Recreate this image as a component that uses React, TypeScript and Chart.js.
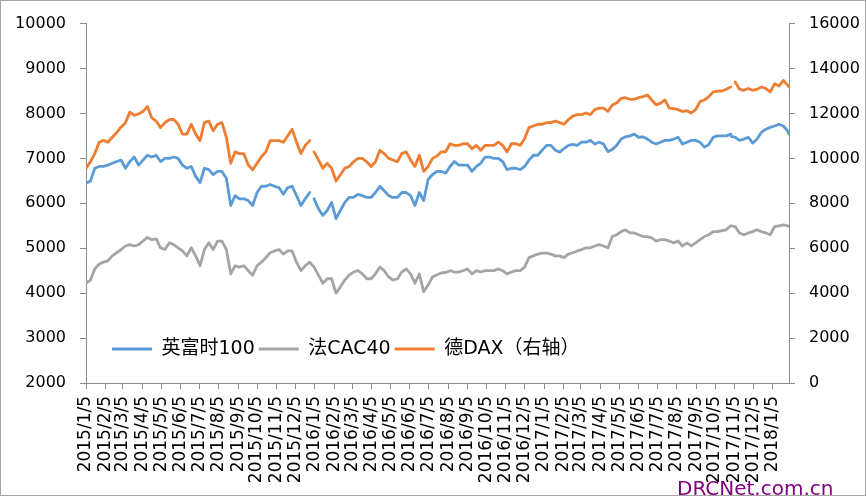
import React, { useEffect, useRef } from "react";
import { Chart, registerables } from "chart.js";

Chart.register(...registerables);

// Sample dates (weekly, plus a few holiday dates where a market was closed)
const DATES: string[] = [
  "2015/1/5","2015/1/12","2015/1/19","2015/1/26",
  "2015/2/2","2015/2/9","2015/2/16","2015/2/23",
  "2015/3/2","2015/3/9","2015/3/16","2015/3/23","2015/3/30",
  "2015/4/6","2015/4/13","2015/4/20","2015/4/27",
  "2015/5/4","2015/5/11","2015/5/18","2015/5/25",
  "2015/6/1","2015/6/8","2015/6/15","2015/6/22","2015/6/29",
  "2015/7/6","2015/7/13","2015/7/20","2015/7/27",
  "2015/8/3","2015/8/10","2015/8/17","2015/8/24","2015/8/31",
  "2015/9/7","2015/9/14","2015/9/21","2015/9/28",
  "2015/10/5","2015/10/12","2015/10/19","2015/10/26",
  "2015/11/2","2015/11/9","2015/11/16","2015/11/23","2015/11/30",
  "2015/12/7","2015/12/14","2015/12/21","2015/12/28","2015/12/31",
  "2016/1/4","2016/1/11","2016/1/18","2016/1/25",
  "2016/2/1","2016/2/8","2016/2/15","2016/2/22","2016/2/29",
  "2016/3/7","2016/3/14","2016/3/21","2016/3/28",
  "2016/4/4","2016/4/11","2016/4/18","2016/4/25",
  "2016/5/2","2016/5/9","2016/5/16","2016/5/23","2016/5/30",
  "2016/6/6","2016/6/13","2016/6/20","2016/6/27",
  "2016/7/4","2016/7/11","2016/7/18","2016/7/25",
  "2016/8/1","2016/8/8","2016/8/15","2016/8/22","2016/8/29",
  "2016/9/5","2016/9/12","2016/9/19","2016/9/26",
  "2016/10/3","2016/10/10","2016/10/17","2016/10/24","2016/10/31",
  "2016/11/7","2016/11/14","2016/11/21","2016/11/28",
  "2016/12/5","2016/12/12","2016/12/19","2016/12/26",
  "2017/1/2","2017/1/9","2017/1/16","2017/1/23","2017/1/30",
  "2017/2/6","2017/2/13","2017/2/20","2017/2/27",
  "2017/3/6","2017/3/13","2017/3/20","2017/3/27",
  "2017/4/3","2017/4/10","2017/4/17","2017/4/24",
  "2017/5/1","2017/5/8","2017/5/15","2017/5/22","2017/5/29",
  "2017/6/5","2017/6/12","2017/6/19","2017/6/26",
  "2017/7/3","2017/7/10","2017/7/17","2017/7/24","2017/7/31",
  "2017/8/7","2017/8/14","2017/8/21","2017/8/28",
  "2017/9/4","2017/9/11","2017/9/18","2017/9/25",
  "2017/10/2","2017/10/9","2017/10/16","2017/10/23","2017/10/30","2017/10/31",
  "2017/11/6","2017/11/13","2017/11/20","2017/11/27",
  "2017/12/4","2017/12/11","2017/12/18","2017/12/25",
  "2018/1/1","2018/1/8","2018/1/15","2018/1/22","2018/1/29","2018/1/31",
];

// 英富时100 (left axis)
const FTSE: (number | null)[] = [
  6450,6490,6780,6820,
  6820,6850,6890,6930,
  6960,6780,6930,7030,6850,
  6960,7070,7030,7070,
  6930,7000,7000,7030,
  7000,6850,6780,6820,6600,
  6460,6780,6750,6640,
  6710,6710,6560,5950,6170,
  6100,6100,6060,5950,
  6240,6380,6380,6420,
  6380,6350,6200,6350,6380,
  6170,5950,6100,6240,null,
  6100,5880,5730,5840,
  6020,5660,5840,6020,6130,
  6130,6200,6170,6130,
  6130,6240,6380,6280,
  6170,6130,6130,6240,6240,
  6170,5950,6240,6060,
  6530,6640,6710,6710,
  6670,6820,6930,6850,6850,
  6850,6710,6820,6890,
  7030,7030,7000,7000,6930,
  6750,6780,6780,6750,
  6820,6960,7070,7070,
  7180,7290,7290,7180,7140,
  7220,7290,7310,7290,
  7360,7360,7400,7320,
  7360,7320,7150,7200,
  7290,7430,7480,7500,7540,
  7470,7480,7430,7360,
  7320,7360,7400,7400,7430,
  7470,7320,7360,7400,
  7400,7360,7250,7310,
  7470,7500,7500,7500,7540,7490,
  7470,7400,7430,7470,
  7340,7430,7580,7650,
  7690,7720,7760,7720,7610,7540,
];

// 法CAC40 (left axis)
const CAC: (number | null)[] = [
  4220,4290,4540,4650,
  4690,4720,4830,4900,
  4970,5050,5080,5050,5080,
  5160,5240,5190,5210,
  5010,4970,5120,5080,
  5010,4940,4830,5010,4830,
  4610,4970,5120,4970,
  5160,5160,4970,4430,4610,
  4580,4610,4500,4400,
  4610,4690,4790,4900,
  4940,4970,4870,4940,4940,
  4690,4500,4610,4690,4640,
  4580,4400,4220,4320,
  4320,4000,4140,4290,4400,
  4470,4500,4430,4320,
  4320,4430,4580,4500,
  4360,4290,4320,4470,4540,
  4430,4220,4430,4030,
  4180,4360,4410,4450,
  4460,4500,4470,4470,4500,
  4540,4430,4500,4470,
  4500,4500,4500,4540,4500,
  4430,4470,4500,4500,
  4580,4790,4830,4870,
  4890,4890,4870,4830,4830,
  4790,4870,4900,4940,
  4970,5010,5010,5050,
  5080,5050,5010,5260,
  5300,5370,5410,5340,5340,
  5300,5260,5260,5230,
  5160,5190,5190,5160,5120,
  5160,5050,5120,5050,
  5120,5190,5260,5300,
  5370,5370,5390,5410,5500,5500,
  5480,5340,5300,5340,
  5370,5410,5370,5340,
  5300,5480,5500,5520,5500,5480,
];

// 德DAX (right axis)
const DAX: (number | null)[] = [
  9560,9850,10210,10720,
  10800,10720,10940,11150,
  11400,11590,12060,11920,11980,
  12090,12310,11800,11660,
  11370,11590,11730,11730,
  11520,11080,11080,11520,11080,
  10790,11590,11660,11230,
  11520,11590,10940,9780,10290,
  10210,10210,9710,9490,
  9780,10070,10290,10790,
  10790,10790,10720,11010,11300,
  10720,10210,10580,10790,null,
  10290,9930,9560,9780,
  9560,8990,9270,9560,9640,
  9850,10000,10000,9850,
  9640,9850,10360,10210,
  10000,9930,9850,10210,10290,
  9930,9640,10140,9420,
  9640,10000,10100,10290,
  10290,10650,10580,10580,10650,
  10650,10430,10580,10360,
  10580,10580,10580,10720,10580,
  10290,10650,10650,10580,
  10870,11370,11440,11520,
  11520,11590,11590,11660,11590,
  11520,11730,11880,11950,
  11950,12020,11950,12170,
  12240,12240,12090,12380,
  12480,12670,12700,12630,12640,
  12700,12750,12820,12600,
  12380,12460,12600,12240,12210,
  12170,12090,12120,12020,
  12170,12530,12600,12750,
  12960,12990,13000,13080,13180,null,
  13400,13080,13030,13110,
  13030,13080,13180,13110,
  12960,13320,13220,13470,13250,13180,
];

const MONTH_TICKS: string[] = [
  "2015/1/5","2015/2/5","2015/3/5","2015/4/5","2015/5/5","2015/6/5",
  "2015/7/5","2015/8/5","2015/9/5","2015/10/5","2015/11/5","2015/12/5",
  "2016/1/5","2016/2/5","2016/3/5","2016/4/5","2016/5/5","2016/6/5",
  "2016/7/5","2016/8/5","2016/9/5","2016/10/5","2016/11/5","2016/12/5",
  "2017/1/5","2017/2/5","2017/3/5","2017/4/5","2017/5/5","2017/6/5",
  "2017/7/5","2017/8/5","2017/9/5","2017/10/5","2017/11/5","2017/12/5",
  "2018/1/5",
];

const SERIES_NAMES = ["英富时100", "法CAC40", "德DAX（右轴）"];
const SERIES_COLORS = ["#5B9BD5", "#A5A5A5", "#ED7D31"];

const AXIS_COLOR = "#8c8c8c";
const FONT_FAMILY = "'DejaVu Sans', 'Noto Sans CJK SC', sans-serif";

function dayIndex(s: string): number {
  const [y, m, d] = s.split("/").map(Number);
  return Math.round((Date.UTC(y, m - 1, d) - Date.UTC(2015, 0, 5)) / 86400000);
}

const legendInside = {
  id: "legendInside",
  beforeLayout(chart: any) {
    const lg = chart.legend;
    if (lg && !lg.__patched) {
      const orig = lg.fit.bind(lg);
      lg.fit = function () {
        orig();
        this.__h = this.height;
        this.width = 0;
        this.height = 0;
      };
      lg.__patched = true;
    }
  },
  afterLayout(chart: any) {
    const lg = chart.legend;
    if (!lg) return;
    const left = 108;
    const top = 335.5;
    lg.left = left;
    lg.top = top;
    lg.width = 700;
    lg.height = lg.__h || 40;
    lg.right = left + 700;
    lg.bottom = top + lg.height;
  },
};

export default function App() {
  const ref = useRef<HTMLCanvasElement>(null);

  useEffect(() => {
    if (!ref.current) return;
    const toPts = (vals: (number | null)[]) =>
      DATES.map((d, i) => ({ x: dayIndex(d), y: vals[i] }));

    const mk = (i: number, vals: (number | null)[], axis: string) => ({
      label: SERIES_NAMES[i],
      data: toPts(vals),
      yAxisID: axis,
      borderColor: SERIES_COLORS[i],
      backgroundColor: SERIES_COLORS[i],
      borderWidth: 2.8,
      pointRadius: 0,
      pointHoverRadius: 0,
      tension: 0,
      spanGaps: false,
      borderJoinStyle: "round",
      borderCapStyle: "round",
    });

    const plain = (v: any) => String(v);

    const chart = new Chart(ref.current, {
      type: "line",
      data: {
        datasets: [mk(0, FTSE, "y"), mk(1, CAC, "y"), mk(2, DAX, "y1")] as any,
      },
      options: {
        animation: false,
        responsive: false,
        events: [],
        layout: { padding: { left: 0, right: 0, top: 13, bottom: 0 } },
        plugins: {
          tooltip: { enabled: false },
          legend: {
            display: true,
            position: "top",
            align: "start",
            labels: {
              boxWidth: 40,
              boxHeight: 3,
              padding: 4,
              color: "#000",
              font: { size: 19, family: FONT_FAMILY },
              generateLabels: (c: any) =>
                c.data.datasets.map((ds: any, i: number) => ({
                  text: ds.label,
                  fillStyle: ds.borderColor,
                  strokeStyle: ds.borderColor,
                  lineWidth: 0,
                  hidden: false,
                  datasetIndex: i,
                })),
            },
          },
        },
        scales: {
          x: {
            type: "linear",
            min: dayIndex(DATES[0]),
            max: dayIndex(DATES[DATES.length - 1]),
            afterBuildTicks: (scale: any) => {
              scale.ticks = MONTH_TICKS.map((s) => ({ value: dayIndex(s) }));
            },
            afterFit: (scale: any) => {
              scale.height = 496 - 383;
            },
            ticks: {
              autoSkip: false,
              minRotation: 90,
              maxRotation: 90,
              padding: 7,
              color: "#000",
              font: { size: 17, family: FONT_FAMILY },
              callback: (_v: any, i: number) => MONTH_TICKS[i],
            },
            grid: {
              drawOnChartArea: false,
              drawTicks: true,
              tickLength: 6,
              color: AXIS_COLOR,
            },
            border: { display: true, color: AXIS_COLOR, width: 1 },
          },
          y: {
            type: "linear",
            position: "left",
            min: 2000,
            max: 10000,
            afterFit: (scale: any) => {
              scale.width = 86;
            },
            ticks: {
              stepSize: 1000,
              padding: 14,
              color: "#000",
              font: { size: 16, family: FONT_FAMILY },
              callback: plain,
            },
            grid: { drawOnChartArea: false, drawTicks: true, tickLength: 6, color: AXIS_COLOR },
            border: { display: true, color: AXIS_COLOR, width: 1 },
          },
          y1: {
            type: "linear",
            position: "right",
            min: 0,
            max: 16000,
            afterFit: (scale: any) => {
              scale.width = 866 - 789;
            },
            ticks: {
              stepSize: 2000,
              padding: 14,
              color: "#000",
              font: { size: 16, family: FONT_FAMILY },
              callback: plain,
            },
            grid: { drawOnChartArea: false, drawTicks: true, tickLength: 6, color: AXIS_COLOR },
            border: { display: true, color: AXIS_COLOR, width: 1 },
          },
        },
      } as any,
      plugins: [legendInside as any],
    });

    return () => {
      chart.destroy();
    };
  }, []);

  return (
    <div
      style={{
        position: "fixed",
        left: 0,
        top: 0,
        width: 866,
        height: 496,
        overflow: "hidden",
        background: "#fff",
      }}
    >
      <canvas ref={ref} width={866} height={496} style={{ display: "block", width: 866, height: 496 }} />
      <div
        style={{
          position: "absolute",
          left: 0,
          top: 0,
          width: 866,
          height: 496,
          boxSizing: "border-box",
          border: "1px solid #a6a6a6",
          pointerEvents: "none",
        }}
      />
      <div
        style={{
          position: "absolute",
          left: 677,
          top: 478,
          fontFamily: "'DejaVu Sans', sans-serif",
          fontSize: 20,
          lineHeight: "20px",
          color: "#800080",
          whiteSpace: "nowrap",
        }}
      >
        DRCNet.com.cn
      </div>
    </div>
  );
}
